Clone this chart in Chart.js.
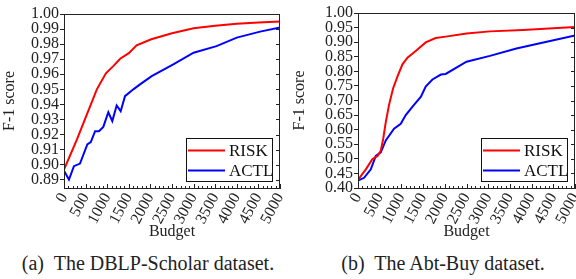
<!DOCTYPE html>
<html>
<head>
<meta charset="utf-8">
<script src="https://cdn.jsdelivr.net/npm/chart.js@4/dist/chart.umd.min.js"></script>
<style>
    body { margin: 0; background: #fff; }
    #wrap { position: relative; width: 576px; height: 279px; overflow: hidden; }
    .box { position: absolute; top: 0; height: 245px; }
    .cap { position: absolute; top: 252px; font-family: "Liberation Serif", serif; font-size: 20px; color: #222; white-space: pre; text-align: center; }
</style>
</head>
<body>
<div id="wrap">
    <div class="box" style="left:0;width:290px"><canvas id="chartA"></canvas></div>
    <div class="box" style="left:290px;width:286px"><canvas id="chartB"></canvas></div>
    <div class="cap" style="left:0;width:296px">(a)  The DBLP-Scholar dataset.</div>
    <div class="cap" style="left:290px;width:306px">(b)  The Abt-Buy dataset.</div>
</div>
<script>
// x tick labels (budget)
var budgetTicks = [0, 500, 1000, 1500, 2000, 2500, 3000, 3500, 4000, 4500, 5000];

// (a) DBLP-Scholar
var riskBudgetA = [0, 300, 760, 970, 1140, 1300, 1500, 1680, 2020, 2500, 3000, 3500, 4000, 4500, 5000];
var riskA = [0.8967, 0.9167, 0.9500, 0.9606, 0.9654, 0.9703, 0.9740, 0.9792, 0.9832, 0.9872, 0.9905, 0.9922, 0.9935, 0.9944, 0.9951];
var actlBudgetA = [0, 115, 230, 370, 540, 620, 720, 810, 910, 1026, 1118, 1219, 1312, 1412, 1605, 1760, 2030, 2530, 3000, 3530, 4000, 4540, 5000];
var actlA = [0.8960, 0.8900, 0.8990, 0.9007, 0.9134, 0.9149, 0.9222, 0.9222, 0.9251, 0.9348, 0.9289, 0.9393, 0.9355, 0.9455, 0.9500, 0.9533, 0.9588, 0.9666, 0.9743, 0.9787, 0.9843, 0.9883, 0.9910];
var yTicksA = [0.89, 0.90, 0.91, 0.92, 0.93, 0.94, 0.95, 0.96, 0.97, 0.98, 0.99, 1.00];

// (b) Abt-Buy
var riskBudgetB = [0, 180, 330, 450, 525, 580, 640, 715, 810, 910, 1025, 1140, 1330, 1560, 1790, 2020, 2500, 3040, 3800, 5000];
var riskB = [0.428, 0.464, 0.499, 0.510, 0.528, 0.568, 0.626, 0.685, 0.742, 0.783, 0.824, 0.847, 0.870, 0.899, 0.914, 0.919, 0.930, 0.937, 0.942, 0.952];
var actlBudgetB = [0, 140, 295, 410, 525, 640, 830, 985, 1100, 1290, 1450, 1560, 1715, 1910, 2020, 2500, 3040, 3650, 4270, 5000];
var actlB = [0.425, 0.435, 0.464, 0.510, 0.522, 0.563, 0.603, 0.620, 0.650, 0.685, 0.713, 0.748, 0.772, 0.789, 0.791, 0.833, 0.853, 0.878, 0.899, 0.923];
var yTicksB = [0.40, 0.45, 0.50, 0.55, 0.60, 0.65, 0.70, 0.75, 0.80, 0.85, 0.90, 0.95, 1.00];

var serif = "'Liberation Serif', 'Times New Roman', serif";
var minorStep = 100;

function pts(xs, ys) {
    return xs.map(function (x, i) { return { x: x, y: ys[i] }; });
}

// inward minor ticks on x axis, inward ticks on right edge, boxed legend
var extras = {
    id: "extras",
    afterDraw: function (chart) {
        var ctx = chart.ctx, a = chart.chartArea;
        var xs = chart.scales.x, ys = chart.scales.y;
        ctx.save();
        ctx.strokeStyle = "#222";
        ctx.lineWidth = 1;
        ctx.beginPath();
        for (var v = xs.min; v <= xs.max; v += minorStep) {
            var px = Math.round(xs.getPixelForValue(v)) + 0.5;
            var len = v % 500 === 0 ? 4 : 2;
            ctx.moveTo(px, a.bottom);
            ctx.lineTo(px, a.bottom - len);
        }
        ys.ticks.forEach(function (t) {
            var py = Math.round(ys.getPixelForValue(t.value)) + 0.5;
            ctx.moveTo(a.right, py);
            ctx.lineTo(a.right - 4, py);
        });
        ctx.stroke();

        // legend
        var w = 86, h = 43;
        var bx = a.right - 8 - w, by = a.bottom - 7 - h;
        ctx.fillStyle = "#fff";
        ctx.fillRect(bx, by, w, h);
        ctx.strokeStyle = "#111";
        ctx.strokeRect(Math.round(bx) + 0.5, Math.round(by) + 0.5, w, h);
        ctx.font = "17px " + serif;
        ctx.textBaseline = "middle";
        chart.data.datasets.forEach(function (ds, i) {
            var ly = by + 12.5 + i * 20;
            ctx.strokeStyle = ds.borderColor;
            ctx.lineWidth = 2;
            ctx.beginPath();
            ctx.moveTo(bx + 2, ly);
            ctx.lineTo(bx + 39, ly);
            ctx.stroke();
            ctx.fillStyle = "#111";
            ctx.fillText(ds.label, bx + 43, ly + 1);
        });
        ctx.restore();
    },
};

function makeChart(id, risk, actl, yMin, yTicks, yWidth, pad) {
    return new Chart(document.getElementById(id), {
        type: "line",
        data: {
            datasets: [
                { label: "RISK", data: risk, borderColor: "#ff0000", borderWidth: 2, pointRadius: 0, tension: 0 },
                { label: "ACTL", data: actl, borderColor: "#0000ff", borderWidth: 2, pointRadius: 0, tension: 0 },
            ],
        },
        options: {
            responsive: true,
            maintainAspectRatio: false,
            animation: false,
            layout: { padding: pad },
            plugins: { legend: { display: false }, tooltip: { enabled: false } },
            scales: {
                x: {
                    type: "linear",
                    min: 0,
                    max: 5000,
                    afterBuildTicks: function (s) {
                        s.ticks = budgetTicks.map(function (v) { return { value: v }; });
                    },
                    afterFit: function (s) {
                        s.height = 57;
                        s.paddingLeft = 0;
                        s.paddingRight = 0;
                    },
                    grid: { display: true, drawOnChartArea: false, drawTicks: false, color: "#222" },
                    border: { display: true, color: "#222", width: 1 },
                    ticks: {
                        autoSkip: false,
                        minRotation: 62,
                        maxRotation: 62,
                        padding: 2,
                        color: "#222",
                        font: { family: serif, size: 16 },
                        callback: function (v) { return String(v); },
                    },
                    title: {
                        display: true,
                        text: "Budget",
                        color: "#222",
                        font: { family: serif, size: 16 },
                        padding: { top: 0, bottom: 4 },
                    },
                },
                y: {
                    min: yMin,
                    max: 1.0,
                    afterBuildTicks: function (s) {
                        s.ticks = yTicks.map(function (v) { return { value: v }; });
                    },
                    afterFit: function (s) {
                        s.width = yWidth;
                        s.paddingTop = 0;
                        s.paddingBottom = 0;
                    },
                    grid: { display: true, drawOnChartArea: false, tickLength: 4, color: "#222" },
                    border: { display: true, color: "#222", width: 1 },
                    ticks: {
                        autoSkip: false,
                        padding: 1,
                        color: "#222",
                        font: { family: serif, size: 16 },
                        callback: function (v) { return Number(v).toFixed(2); },
                    },
                    title: {
                        display: true,
                        text: "F-1 score",
                        color: "#222",
                        font: { family: serif, size: 16 },
                        padding: { top: 0, bottom: 2 },
                    },
                },
            },
        },
        plugins: [
            extras,
            {
                id: "frame",
                afterDatasetsDraw: function (chart) {
                    var c = chart.ctx, a = chart.chartArea;
                    c.save();
                    c.strokeStyle = "#222";
                    c.lineWidth = 1;
                    c.strokeRect(Math.round(a.left) + 0.5, Math.round(a.top) + 0.5, Math.round(a.width) - 1, Math.round(a.height));
                    c.restore();
                },
            },
        ],
    });
}

makeChart("chartA", pts(riskBudgetA, riskA), pts(actlBudgetA, actlA), 0.8845, yTicksA, 64, { top: 14, right: 10, left: 0, bottom: 0 });
makeChart("chartB", pts(riskBudgetB, riskB), pts(actlBudgetB, actlB), 0.40, yTicksB, 68, { top: 13, right: 1, left: 0, bottom: 0 });
</script>
</body>
</html>
